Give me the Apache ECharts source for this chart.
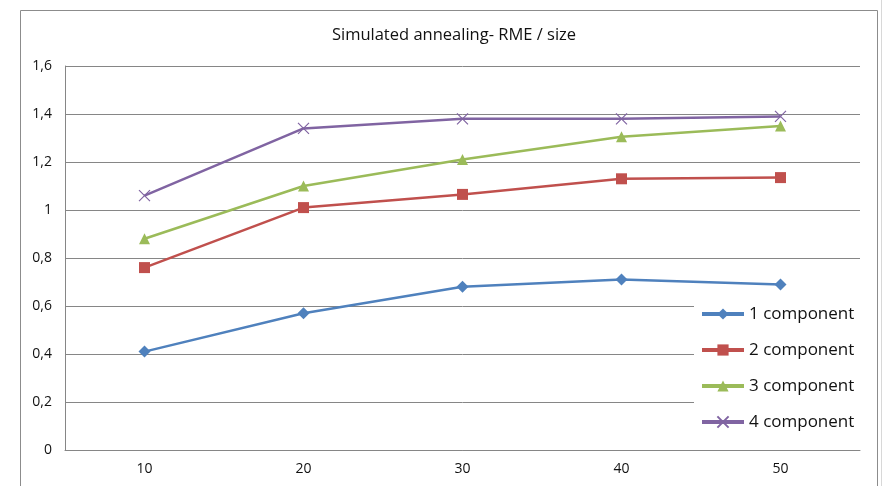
<!DOCTYPE html>
<html>
<head>
<meta charset="utf-8">
<script src="https://cdn.jsdelivr.net/npm/echarts@6/dist/echarts.min.js"></script>
<style>
  html, body { margin: 0; padding: 0; background: #fff; }
  #chart { width: 885px; height: 486px; }
</style>
</head>
<body>
<div id="chart"></div>
<script>
// Problem sizes on the x axis
const sizes = ['10', '20', '30', '40', '50'];

// RME per number of components
const comp1 = [0.41, 0.57, 0.68, 0.71, 0.69];
const comp2 = [0.76, 1.01, 1.065, 1.13, 1.135];
const comp3 = [0.88, 1.10, 1.21, 1.305, 1.35];
const comp4 = [1.06, 1.34, 1.38, 1.38, 1.39];

const seriesNames = ['1 component', '2 component', '3 component', '4 component'];
const colors = ['#4F81BD', '#C0504D', '#9BBB59', '#8064A2'];

const FONT = '"Open Sans", sans-serif';

const chart = echarts.init(document.getElementById('chart'), null, { renderer: 'canvas' });

function lineSeries(name, data, color, symbol, size, extraItem) {
  return {
    name: name,
    type: 'line',
    data: data,
    symbol: symbol,
    symbolSize: size,
    showSymbol: true,
    lineStyle: { color: color, width: 2.5 },
    itemStyle: Object.assign({ color: color }, extraItem || {}),
    z: 3
  };
}

const crossPath = 'path://M0,0L10,10M10,0L0,10';

chart.setOption({
  animation: false,
  color: colors,
  title: {
    text: 'Simulated annealing- RME / size',
    left: 449,
    textAlign: 'center',
    top: 22,
    textStyle: { fontFamily: FONT, fontSize: 16.5, fontWeight: 'normal', color: '#111' }
  },
  grid: { left: 65, right: 25, top: 66, bottom: 36, containLabel: false },
  xAxis: {
    type: 'category',
    data: sizes,
    boundaryGap: true,
    axisLine: { show: true, lineStyle: { color: '#868686', width: 1 } },
    axisTick: { show: false },
    axisLabel: { margin: 12, fontFamily: FONT, fontSize: 14, color: '#111' },
    splitLine: { show: false }
  },
  yAxis: {
    type: 'value',
    min: 0,
    max: 1.6,
    interval: 0.2,
    axisLine: { show: true, lineStyle: { color: '#868686', width: 1 } },
    axisTick: { show: false },
    axisLabel: {
      margin: 13,
      fontFamily: FONT,
      fontSize: 14,
      color: '#111',
      formatter: v => String(+v.toFixed(1)).replace('.', ',')
    },
    splitLine: { show: true, lineStyle: { color: '#868686', width: 1 } }
  },
  legend: {
    orient: 'vertical',
    left: 694,
    top: 296,
    padding: [8, 8, 8, 6],
    backgroundColor: '#ffffff',
    itemWidth: 42,
    itemHeight: 14,
    itemGap: 16,
    data: seriesNames,
    lineStyle: { width: 4 },
    textStyle: { fontFamily: FONT, fontSize: 17, color: '#111', lineHeight: 20 },
    z: 10
  },
  series: [
    lineSeries(seriesNames[0], comp1, colors[0], 'diamond', 12),
    lineSeries(seriesNames[1], comp2, colors[1], 'rect', 11),
    lineSeries(seriesNames[2], comp3, colors[2], 'triangle', 11),
    lineSeries(seriesNames[3], comp4, colors[3], crossPath, 11,
      { color: 'none', borderColor: colors[3], borderWidth: 1.2 })
  ],
  graphic: [
    {
      type: 'rect',
      shape: { x: 20.5, y: 10.5, width: 857, height: 500 },
      style: { fill: 'none', stroke: '#8c8c8c', lineWidth: 1 },
      silent: true,
      z: -1
    },
    {
      type: 'line',
      shape: { x1: 881.5, y1: 0, x2: 881.5, y2: 486 },
      style: { stroke: '#d8d8d8', lineWidth: 1 },
      silent: true,
      z: -1
    }
  ]
});
</script>
</body>
</html>
